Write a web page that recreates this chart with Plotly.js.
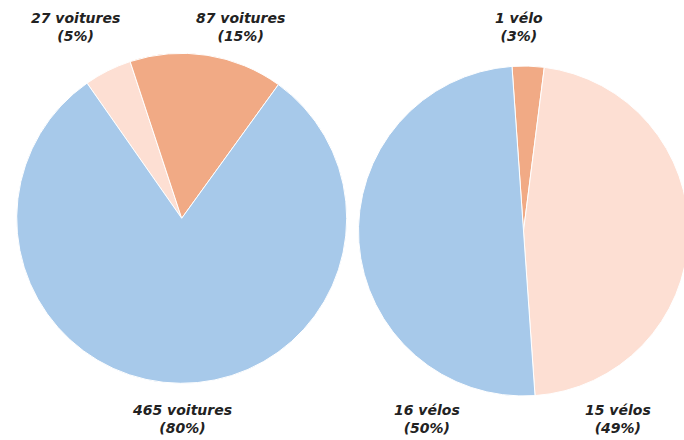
<!DOCTYPE html>
<html><head><meta charset="utf-8">
<script src="https://cdn.plot.ly/plotly-3.0.1.min.js"></script>
<style>html,body{margin:0;padding:0;overflow:hidden;background:#fff}#chart{width:690px;height:440px}</style>
</head><body><div id="chart"></div>
<script>
// Left pie: voitures
const carCategories = ["Petite part", "Part moyenne", "Majorité"];
const carCounts = [27, 87, 465];
const carPercents = ["5%", "15%", "80%"];
const carUnit = ["voitures", "voitures", "voitures"];
// Right pie: vélos
const bikeCategories = ["Petite part", "Part moyenne", "Majorité"];
const bikeCounts = [1, 15, 16];
const bikePercents = ["3%", "49%", "50%"];
const bikeUnit = ["vélo", "vélos", "vélos"];

const colors = ["#fddfd3", "#f1aa85", "#a7c9ea"];
const bikeColors = ["#f1aa85", "#fddfd3", "#a7c9ea"];

const W = 690, H = 440;
function dom(cx, cy, r) {
  return {x: [(cx - r) / W, (cx + r) / W], y: [(H - cy - r) / H, (H - cy + r) / H]};
}

const traces = [
  {
    type: "pie", values: carCounts, labels: carCategories.map((c,i)=>c+" "+i),
    marker: {colors: colors, line: {color: "#ffffff", width: 1}},
    sort: false, direction: "clockwise", rotation: -35,
    textinfo: "none", hoverinfo: "none", showlegend: false,
    domain: dom(181.7, 218.3, 165)
  },
  {
    type: "pie",
    values: bikeCounts,
    labels: bikeCategories.map((c,i)=>c+" v"+i),
    marker: {colors: bikeColors, line: {color: "#ffffff", width: 1}},
    sort: false, direction: "clockwise", rotation: -4,
    textinfo: "none", hoverinfo: "none", showlegend: false,
    domain: dom(523.5, 231, 165)
  }
];

function lbl(count, unit, pct) { return count + " " + unit + "<br>(" + pct + ")"; }
const labelPos = {
  car: [[75, 27], [240, 27], [182, 419]],
  bike: [[519, 27], [618, 419], [427, 419]]
};
const annotations = [];
carCounts.forEach((v, i) => {
  annotations.push({text: lbl(v, carUnit[i], carPercents[i]), x: labelPos.car[i][0] / W, y: 1 - labelPos.car[i][1] / H});
});
bikeCounts.forEach((v, i) => {
  annotations.push({text: lbl(v, bikeUnit[i], bikePercents[i]), x: labelPos.bike[i][0] / W, y: 1 - labelPos.bike[i][1] / H});
});
annotations.forEach(a => {
  Object.assign(a, {xref: "paper", yref: "paper", xanchor: "center", yanchor: "middle",
    showarrow: false, align: "center",
    font: {family: "'DejaVu Sans', sans-serif", size: 14, color: "#222222", weight: 700, style: "italic"}});
});

Plotly.newPlot("chart", traces, {
  width: W, height: H, margin: {l: 0, r: 0, t: 0, b: 0},
  paper_bgcolor: "#ffffff", plot_bgcolor: "#ffffff",
  annotations: annotations, showlegend: false
}, {displayModeBar: false, staticPlot: true});
</script></body></html>
